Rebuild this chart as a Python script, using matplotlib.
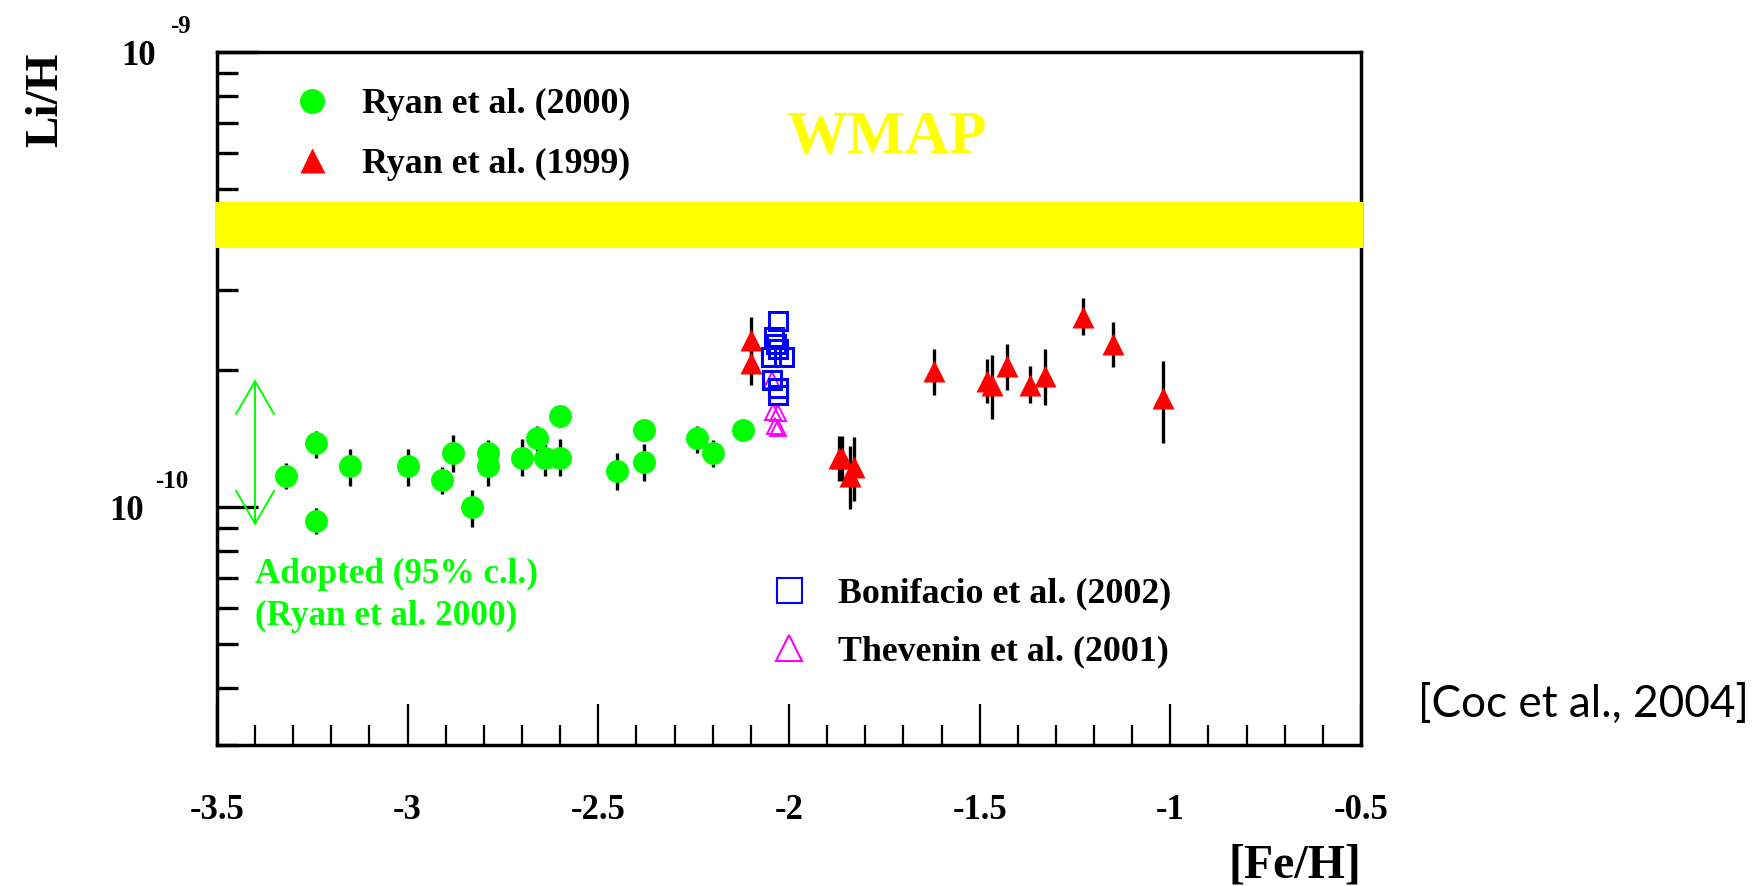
import numpy as np
import matplotlib.pyplot as plt
from matplotlib.lines import Line2D
from matplotlib.patches import FancyArrowPatch, ArrowStyle
from matplotlib.ticker import FixedLocator, FixedFormatter, MultipleLocator, LogLocator, NullFormatter

plt.rcParams['font.family'] = ['Liberation Serif', 'DejaVu Serif']
plt.rcParams['font.weight'] = 'bold'
plt.rcParams['axes.unicode_minus'] = False

# Li/H values are in units of 1e-10
# Ryan et al. (2000)
ryan00_feh = [-3.32, -3.24, -3.24, -3.15, -3.00, -2.91, -2.88, -2.83, -2.79, -2.79, -2.70,
              -2.66, -2.64, -2.60, -2.60, -2.45, -2.38, -2.38, -2.24, -2.20, -2.12]
ryan00_li = [1.17, 1.38, 0.933, 1.23, 1.23, 1.146, 1.316, 0.998, 1.316, 1.23, 1.285,
             1.416, 1.285, 1.585, 1.285, 1.20, 1.476, 1.258, 1.416, 1.318, 1.476]
ryan00_lo = [1.094, 1.285, 0.871, 1.114, 1.114, 1.069, 1.196, 0.905, 1.23, 1.114, 1.17,
             1.33, 1.17, 1.50, 1.17, 1.089, 1.40, 1.14, 1.312, 1.227, 1.40]
ryan00_hi = [1.25, 1.47, 0.993, 1.343, 1.343, 1.222, 1.439, 1.089, 1.404, 1.32, 1.41,
             1.507, 1.41, 1.67, 1.41, 1.312, 1.55, 1.374, 1.507, 1.404, 1.55]

# Ryan et al. (1999)
ryan99_feh = [-2.10, -2.10, -1.870, -1.860, -1.830, -1.840, -1.62, -1.48, -1.468, -1.429,
              -1.368, -1.328, -1.228, -1.149, -1.018]
ryan99_li = [2.33, 2.075, 1.285, 1.28, 1.227, 1.173, 1.99, 1.897, 1.854, 2.04,
             1.854, 1.94, 2.62, 2.28, 1.734]
ryan99_lo = [2.10, 1.855, 1.143, 1.143, 1.032, 0.988, 1.76, 1.69, 1.56, 1.81,
             1.69, 1.68, 2.39, 2.03, 1.38]
ryan99_hi = [2.61, 2.30, 1.433, 1.433, 1.427, 1.36, 2.22, 2.12, 2.16, 2.28,
             2.04, 2.22, 2.88, 2.55, 2.09]

# Bonifacio et al. (2002)
bonif_feh = [-2.030, -2.040, -2.035, -2.030, -2.048, -2.012, -2.045, -2.030, -2.030]
bonif_li = [2.57, 2.36, 2.28, 2.22, 2.14, 2.14, 1.90, 1.83, 1.76]

# Thevenin et al. (2001)
thev_feh = [-2.045, -2.041, -2.028, -2.037, -2.028]
thev_li = [1.90, 1.62, 1.607, 1.507, 1.49]

# WMAP band and adopted range
wmap_lo, wmap_hi = 3.71, 4.68
adopted_feh = -3.40
adopted_lo, adopted_hi = 0.91, 1.91

xticks = [-3.5, -3.0, -2.5, -2.0, -1.5, -1.0, -0.5]
xticklabels = ['-3.5', '-3', '-2.5', '-2', '-1.5', '-1', '-0.5']

GREEN = '#00ff00'
RED = '#ff0000'
BLUE = '#0000ff'
MAGENTA = '#ff00ff'
YELLOW = '#ffff00'
U = 1e-10

fig = plt.figure(figsize=(17.55, 8.86), dpi=100)
ax = fig.add_axes([0.1236, 0.1591, 0.6519, 0.7822])

def bars(li, lo, hi):
    li = np.array(li)
    return [(li - np.array(lo)) * U, (np.array(hi) - li) * U]

ax.errorbar(ryan00_feh, np.array(ryan00_li) * U, yerr=bars(ryan00_li, ryan00_lo, ryan00_hi),
            fmt='none', ecolor='black', elinewidth=2.4, capsize=0, zorder=3)
ax.errorbar(ryan99_feh, np.array(ryan99_li) * U, yerr=bars(ryan99_li, ryan99_lo, ryan99_hi),
            fmt='none', ecolor='black', elinewidth=2.4, capsize=0, zorder=3)

ax.plot(ryan00_feh, np.array(ryan00_li) * U, 'o', color=GREEN, ms=16.5, mec='none', zorder=5)
ax.plot(ryan99_feh, np.array(ryan99_li) * U, '^', color=RED, ms=16.5, mec='none', zorder=5)
ax.plot(thev_feh, np.array(thev_li) * U, '^', mfc='none', mec=MAGENTA, mew=1.4, ms=12, zorder=6)
ax.plot(bonif_feh, np.array(bonif_li) * U, 's', mfc='none', mec=BLUE, mew=2.2, ms=13, zorder=7)

# WMAP band, drawn over the frame like the original
ax.axhspan(wmap_lo * U, wmap_hi * U, xmin=-0.002, xmax=1.002, color=YELLOW, lw=0,
           zorder=4, clip_on=False)
ax.text(0.5848, 0.8538, 'WMAP', transform=ax.transAxes, color=YELLOW, fontsize=44,
        ha='center', va='baseline')

# adopted range arrow
arrow = FancyArrowPatch((adopted_feh, adopted_lo * U), (adopted_feh, adopted_hi * U),
                        arrowstyle=ArrowStyle('<->', head_length=23.8, head_width=13.7),
                        mutation_scale=1, color=GREEN, lw=1.4, shrinkA=0, shrinkB=0, zorder=5)
ax.add_patch(arrow)
ax.text(adopted_feh, 0.2339, 'Adopted (95% c.l.)', transform=ax.get_xaxis_transform(),
        color=GREEN, fontsize=25.3, ha='left', va='baseline')
ax.text(adopted_feh, 0.1732, '(Ryan et al. 2000)', transform=ax.get_xaxis_transform(),
        color=GREEN, fontsize=25.3, ha='left', va='baseline')

# axes
ax.set_xlim(-3.5, -0.5)
ax.set_yscale('log')
ax.set_ylim(3e-11, 1e-9)
ax.xaxis.set_major_locator(FixedLocator(xticks))
ax.xaxis.set_major_formatter(FixedFormatter(xticklabels))
ax.xaxis.set_minor_locator(MultipleLocator(0.1))
ax.yaxis.set_major_locator(FixedLocator([1e-10, 1e-9]))
ax.yaxis.set_major_formatter(NullFormatter())
ax.yaxis.set_minor_locator(LogLocator(base=10, subs=np.arange(2, 10)))
ax.yaxis.set_minor_formatter(NullFormatter())

ax.tick_params(axis='x', which='major', direction='in', length=29.5, width=1.6,
               labelsize=25, pad=35.5, top=False)
ax.tick_params(axis='x', which='minor', direction='in', length=14.4, width=1.6, top=False)
ax.tick_params(axis='y', which='major', direction='in', length=29.5, width=2.4, right=False)
ax.tick_params(axis='y', which='minor', direction='in', length=15, width=2.4, right=False)
for sp in ax.spines.values():
    sp.set_linewidth(2.5)

# y tick labels as 10 with raised exponent
ytick_labels = [(1e-9, '10', '-9', -43.9, -33.8), (1e-10, '10', '-10', -52.6, -44.6)]
for val, base, expo, dx_base, dx_exp in ytick_labels:
    ax.annotate(base, xy=(0, val), xycoords=ax.get_yaxis_transform(),
                xytext=(dx_base, -9.0), textcoords='offset points',
                fontsize=25, ha='right', va='baseline', annotation_clip=False)
    ax.annotate(expo, xy=(0, val), xycoords=ax.get_yaxis_transform(),
                xytext=(dx_exp, 13.5), textcoords='offset points',
                fontsize=18, ha='left', va='baseline', annotation_clip=False)

ax.text(-0.1495, 0.9307, 'Li/H', transform=ax.transAxes, rotation=90, fontsize=34,
        ha='center', va='center')
ax.text(1.0, -0.1905, '[Fe/H]', transform=ax.transAxes, fontsize=34.5,
        ha='right', va='baseline')

# legends
h_r00 = Line2D([], [], ls='none', marker='o', color=GREEN, mec='none', ms=18)
h_r99 = Line2D([], [], ls='none', marker='^', color=RED, mec='none', ms=18)
leg1 = ax.legend([h_r00, h_r99], ['Ryan et al. (2000)', 'Ryan et al. (1999)'],
                 loc='upper left', bbox_to_anchor=(0.0674, 0.9475), frameon=False,
                 fontsize=25.8, handlelength=1.0, handletextpad=0.89, labelspacing=0.727,
                 borderpad=0, borderaxespad=0, numpoints=1)
ax.add_artist(leg1)
h_bon = Line2D([], [], ls='none', marker='s', mfc='none', mec=BLUE, mew=1.5, ms=18)
h_the = Line2D([], [], ls='none', marker='^', mfc='none', mec=MAGENTA, mew=1.5, ms=19)
ax.legend([h_bon, h_the], ['Bonifacio et al. (2002)', 'Thevenin et al. (2001)'],
          loc='upper left', bbox_to_anchor=(0.4846, 0.242), frameon=False,
          fontsize=25.8, handlelength=1.0, handletextpad=0.86, labelspacing=0.70,
          borderpad=0, borderaxespad=0, numpoints=1)

fig.text(0.808, 0.191, '[Coc et al., 2004]', family=['Lato', 'DejaVu Sans'],
         fontweight='normal', fontsize=31.8, ha='left', va='baseline')

fig.savefig('out.png', dpi=100)
